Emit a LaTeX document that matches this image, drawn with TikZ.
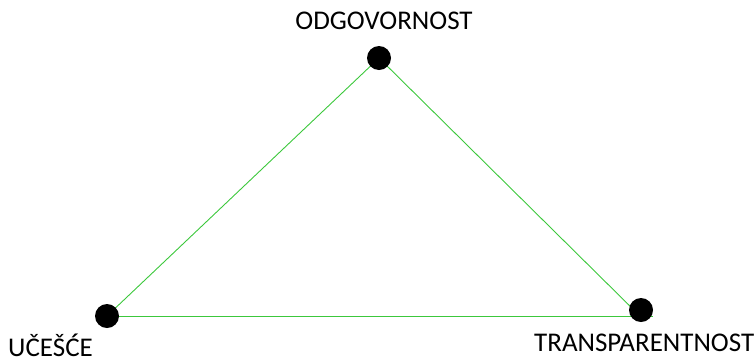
\documentclass[tikz,border=0pt]{standalone}
\usepackage{fontspec}
\setmainfont{Carlito}
\definecolor{edgegreen}{RGB}{60,200,60}
\begin{document}
\begin{tikzpicture}[x=1pt,y=-1pt,
  vertex/.style={circle,fill=black,inner sep=0pt,minimum size=24pt},
  edge/.style={draw=edgegreen,line width=0.9pt},
  label/.style={inner sep=0pt,font=\fontsize{27}{31}\selectfont}]
\useasboundingbox (0,0) rectangle (755,357);
% line end points
\coordinate (ptop) at (379,58);
\coordinate (pleft) at (107,316);
\coordinate (pright) at (640,316);
\coordinate (pbottom) at (653,316);
\draw[edge] (pleft) -- (ptop) -- (pright);
\draw[edge] (pleft) -- (pbottom);
% vertices
\node[vertex] (top) at (379,58) {};
\node[vertex] (left) at (107,316) {};
\node[vertex] (right) at (641,310) {};
% labels
\node[label,anchor=base] (ltop) at (384,29) {ODGOVORNOST};
\node[label,anchor=base west] (lleft) at (8,356) {UČEŠĆE};
\node[label,anchor=base west] (lright) at (534,351) {TRANSPARENTNOST};
\end{tikzpicture}
\end{document}
